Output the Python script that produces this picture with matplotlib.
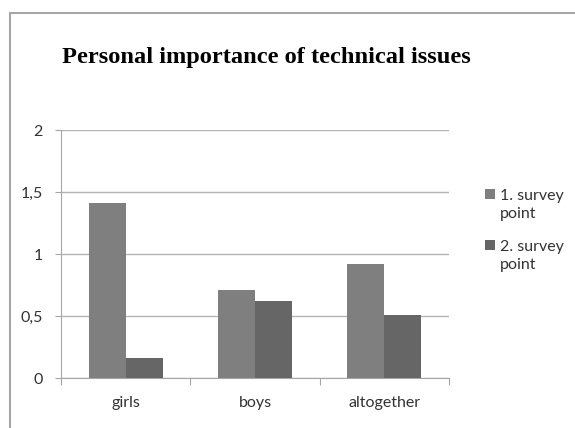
import numpy as np
from matplotlib import pyplot as plt
from matplotlib.patches import Rectangle
from matplotlib.legend_handler import HandlerPatch

categories = ["girls", "boys", "altogether"]
series_names = ["1. survey\npoint", "2. survey\npoint"]
survey_1 = [1.41, 0.71, 0.92]
survey_2 = [0.16, 0.62, 0.51]
y_ticks = [0, 0.5, 1, 1.5, 2]
y_labels = ["0", "0,5", "1", "1,5", "2"]

W, H = 575, 428
fig = plt.figure(figsize=(W / 100, H / 100), dpi=100)

# outer chart frame (runs off the right and bottom edge)
fig.patches.append(Rectangle((10 / W, -0.05), 1.0, 1 - 13 / H + 0.05,
                             transform=fig.transFigure, fill=False,
                             edgecolor="#a6a6a6", linewidth=1.5))

ax = fig.add_axes([61 / W, 1 - 378 / H, 388 / W, 248 / H])

x = np.arange(len(categories))
w = 0.286
b1 = ax.bar(x - w / 2, survey_1, w, color="#7f7f7f", zorder=3)
b2 = ax.bar(x + w / 2, survey_2, w, color="#666666", zorder=3)

ax.set_xlim(-0.5, 2.5)
ax.set_ylim(0, 2)
ax.set_yticks(y_ticks)
ax.set_yticklabels(y_labels)
ax.yaxis.grid(True, color="#b3b3b3", linewidth=1)
ax.set_axisbelow(True)

# category tick marks sit between the groups
ax.set_xticks([-0.5, 0.5, 1.5, 2.5], minor=False)
ax.set_xticklabels([])
ax.set_xticks(x, minor=True)
ax.set_xticklabels(categories, minor=True)
ax.tick_params(axis="x", which="major", length=5, color="#a6a6a6", direction="out")
ax.tick_params(axis="x", which="minor", length=0, pad=13)
ax.tick_params(axis="y", length=4, color="#a6a6a6", pad=9)
for lab in ax.get_xticklabels(minor=True) + ax.get_yticklabels():
    lab.set_fontfamily("Lato")
    lab.set_fontsize(11.5)
    lab.set_color("#333333")

for s in ["top", "right"]:
    ax.spines[s].set_visible(False)
ax.spines["left"].set_color("#a6a6a6")
ax.spines["bottom"].set_color("#a6a6a6")

fig.text(266 / W, 1 - 58 / H, "Personal importance of technical issues",
         ha="center", va="center", fontfamily="Liberation Serif",
         fontweight="bold", fontsize=17.6)


# legend square sits next to the first text line, not the middle
def top_square(legend, orig_handle, xdescent, ydescent, width, height, fontsize):
    return Rectangle((-xdescent, -ydescent + fontsize * 0.68), width, height)


leg = ax.legend([b1.patches[0], b2.patches[0]], series_names,
                loc="upper left", bbox_to_anchor=(471 / W, 1 - 175 / H),
                bbox_transform=fig.transFigure, frameon=False,
                prop={"family": "Lato", "size": 11.5}, handlelength=0.6,
                handleheight=0.6, handletextpad=0.3, labelspacing=1.2,
                handler_map={Rectangle: HandlerPatch(patch_func=top_square)})
for t in leg.get_texts():
    t.set_color("#333333")
    t.set_linespacing(1.35)

plt.savefig("out.png", dpi=100)
